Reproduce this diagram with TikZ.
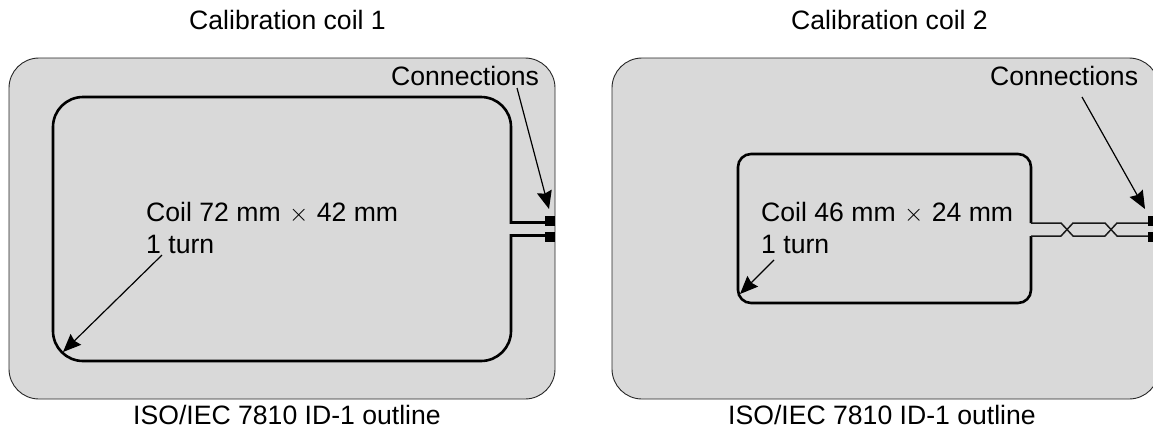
\documentclass[tikz,border=0pt]{standalone}
\usepackage{fontspec}
\setmainfont{Liberation Sans}
\usetikzlibrary{arrows.meta}
\definecolor{cardgray}{gray}{0.85}
\tikzset{
  card/.style={fill=cardgray,draw=black!85,line width=0.9pt,rounded corners=30pt},
  coil/.style={draw=black,line width=2.6pt},
  lead/.style={draw=black!90,line width=1.5pt,line join=round},
  pad/.style={fill=black,draw=none},
  pointer/.style={draw=black,line width=1.2pt,-{Stealth[length=18pt,width=15pt,inset=2pt]}},
  lbl/.style={font=\fontsize{26.6}{30}\selectfont,inner sep=0pt,text=black,anchor=base west},
}
\begin{document}
\begin{tikzpicture}[x=1pt,y=-1pt]
\useasboundingbox (0,0) rectangle (1153,432);
% Coil 1
\draw[card] (9,58) rectangle (555,399);
\draw[coil] (545,222.5) [sharp corners] -- (511,222.5) -- (511,180) [rounded corners=30pt] -- (511,97) -- (53,97) -- (53,361) -- (511,361) -- (511,280) [sharp corners] -- (511,235.5) -- (545,235.5);
\fill[pad] (545,216) rectangle (555,226);
\fill[pad] (545,232) rectangle (555,242);
\node[lbl] (t1) at (189,29) {Calibration coil 1};
\node[lbl] (b1) at (133,424) {ISO/IEC 7810 ID-1 outline};
\node[lbl] (c1) at (391,85) {Connections};
\node[lbl] (m1) at (146,221) {Coil 72 mm\hspace{1pt} $\times$\hspace{1pt} 42 mm};
\node[lbl] (n1) at (146,253) {1 turn};
\coordinate (a1) at (517,88);
\coordinate (a1e) at (549,209);
\coordinate (a2) at (162,255);
\coordinate (a2e) at (63,352);
\draw[pointer] (a1) -- (a1e);
\draw[pointer] (a2) -- (a2e);
% Coil 2
\begin{scope}
\clip (600,40) rectangle (1153,410);
\draw[card] (612,58) rectangle (1159,399);
\end{scope}
\draw[coil] (1031,223) -- (1031,180) [rounded corners=13pt] -- (1031,154) -- (738,154) -- (738,303) -- (1031,303) -- (1031,270) [sharp corners] -- (1031,236);
\draw[lead] (1031,223) -- (1061,223) -- (1073,236) -- (1105,236) -- (1117,223) -- (1148,223);
\draw[lead] (1031,236) -- (1061,236) -- (1073,223) -- (1105,223) -- (1117,236) -- (1148,236);
\fill[pad] (1148,216) rectangle (1153,226);
\fill[pad] (1148,232) rectangle (1153,242);
\node[lbl] (t2) at (791,29) {Calibration coil 2};
\node[lbl] (b2) at (728,424) {ISO/IEC 7810 ID-1 outline};
\node[lbl] (c2) at (990,85) {Connections};
\node[lbl] (m2) at (761,221) {Coil 46 mm\hspace{1pt} $\times$\hspace{1pt} 24 mm};
\node[lbl] (n2) at (761,253) {1 turn};
\coordinate (a3) at (1082,97);
\coordinate (a3e) at (1145,209);
\coordinate (a4) at (774,260);
\coordinate (a4e) at (740,294);
\draw[pointer] (a3) -- (a3e);
\draw[pointer] (a4) -- (a4e);
\end{tikzpicture}
\end{document}
